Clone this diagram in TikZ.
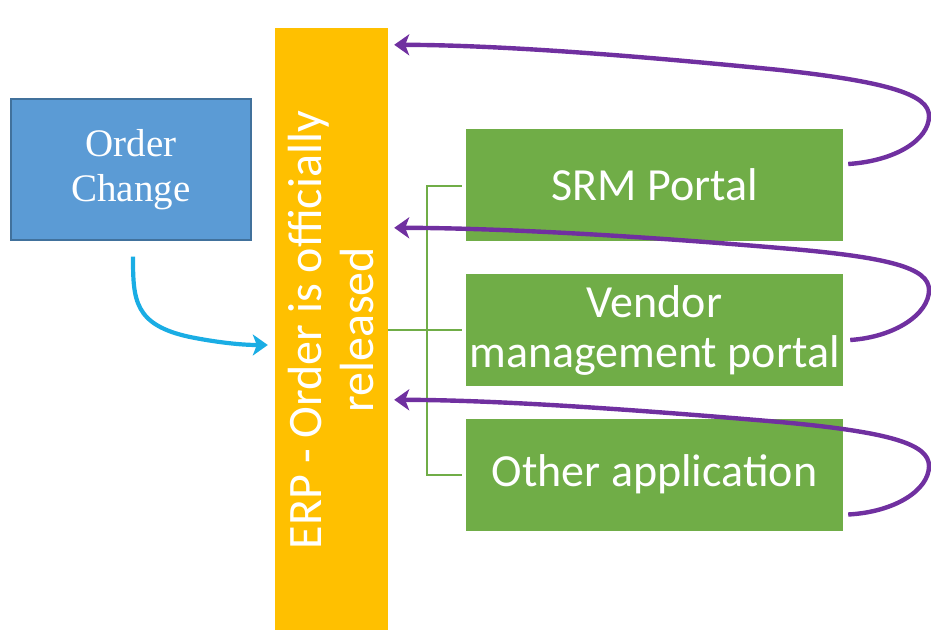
\documentclass[tikz,border=0pt]{standalone}
\usepackage{fontspec}
\setmainfont{Carlito}
\newfontfamily\timesfont{Liberation Serif}
\usetikzlibrary{arrows.meta,calc}
\definecolor{ocblue}{HTML}{5B9BD5}
\definecolor{ocborder}{HTML}{41719C}
\definecolor{erporange}{HTML}{FFC000}
\definecolor{appgreen}{HTML}{70AD47}
\definecolor{loopviolet}{HTML}{7030A0}
\definecolor{flowcyan}{HTML}{1AADE4}
\tikzset{
  appbox/.style={fill=appgreen, draw=none, minimum width=377pt, minimum height=112pt,
    text=white, align=center, font=\fontsize{46}{50}\selectfont, inner sep=0pt},
  loop/.style={draw=loopviolet, line width=4.4pt, -{Stealth[length=15pt,width=21pt,inset=4pt]}},
  tree/.style={draw=appgreen, line width=1.4pt}
}
\begin{document}
\begin{tikzpicture}[x=1pt,y=-1pt]
\useasboundingbox (0,0) rectangle (931,630);
% Order change
\node[fill=ocblue, draw=ocborder, line width=1.2pt, minimum width=240pt, minimum height=141pt,
  text=white, align=center, font=\timesfont\fontsize{39}{45}\selectfont] (oc) at (131,169.5) {\raisebox{-3pt}{Order}\\\raisebox{-3pt}{Change}};
% ERP bar
\node[fill=erporange, draw=none, minimum width=113pt, minimum height=602pt, inner sep=0pt] (erp) at (331.5,329) {};
\node[rotate=90, text=white, align=center, font=\fontsize{48}{52}\selectfont, inner sep=0pt] (erptext) at ($(erp.center)+(0,1)$) {ERP - Order is officially\\released};
% apps
\node[appbox] (srm) at (654.5,185) {SRM Portal};
\node[appbox] (vmp) at (654.5,330) {Vendor\\management portal};
\node[appbox] (oth) at (654.5,474.5) {Other application};
% tree
\coordinate (t0) at (erp.east |- vmp.west);
\coordinate (tt) at (427,186);
\coordinate (tb) at (427,475);
\draw[tree] (t0) -- ($(vmp.west)+(-4,0)$);
\draw[tree] ($(srm.west)+(-4,1)$) -- (tt) -- (tb) -- ($(oth.west)+(-4,0.5)$);
% loops
\coordinate (e1) at ($(erp.north east)+(6,17)$);
\coordinate (e2) at ($(erp.north east)+(6,200)$);
\coordinate (e3) at ($(erp.north east)+(6,372)$);
\draw[loop] ($(srm.east)+(5,-21)$) .. controls (895,161) and (929,140) .. (929,116)
  .. controls (929,95) and (890,82) .. (780,70) .. controls (640,56) and (500,45) .. (e1);
\draw[loop] ($(vmp.east)+(7,10)$) .. controls (895,337) and (929,314) .. (929,290)
  .. controls (929,268) and (890,257) .. (780,248) .. controls (640,236) and (500,228) .. (e2);
\draw[loop] ($(oth.east)+(5,40)$) .. controls (895,512) and (929,490) .. (929,466)
  .. controls (929,444) and (890,432) .. (780,422) .. controls (640,410) and (500,400) .. (e3);
% order change arrow
\coordinate (b0) at ($(oc.south)+(2,16)$);
\draw[draw=flowcyan, line width=4.2pt, -{Stealth[length=15pt,width=21pt,inset=4pt]}]
  (b0) .. controls (133,300) and (134,325) .. (190,337) .. controls (215,342) and (240,345) .. ($(erp.west)+(-7,16)$);
\end{tikzpicture}
\end{document}
